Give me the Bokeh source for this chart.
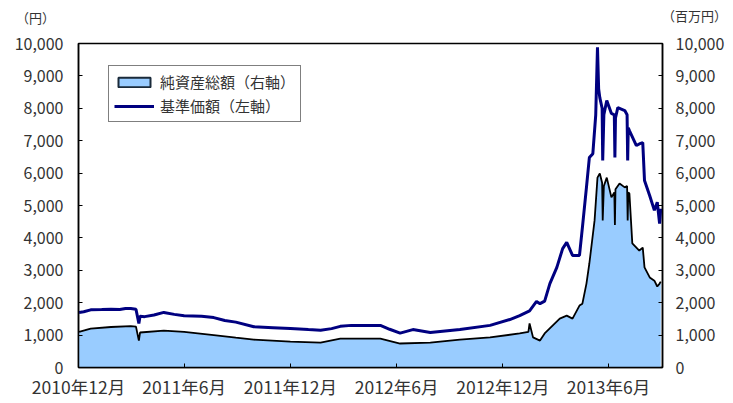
import pandas as pd
from bokeh.plotting import figure
from bokeh.models import (ColumnDataSource, LinearAxis, Range1d, FixedTicker,
                          NumeralTickFormatter, Legend, LegendItem, Label,
                          CustomJSTickFormatter)
from bokeh.embed import file_html
from bokeh.resources import INLINE

# 基準価額 (円, left axis)
price_dates = [
    "2010-12-02", "2010-12-10", "2010-12-22", "2011-01-10", "2011-01-26", "2011-02-10",
    "2011-02-20", "2011-03-01", "2011-03-10", "2011-03-15", "2011-03-17", "2011-03-25",
    "2011-04-10", "2011-04-27", "2011-05-15", "2011-06-01", "2011-07-01", "2011-07-22",
    "2011-08-10", "2011-08-29", "2011-09-29", "2011-11-01", "2011-12-01", "2012-01-01",
    "2012-01-22", "2012-02-10", "2012-02-25", "2012-03-15", "2012-05-04", "2012-05-20",
    "2012-06-07", "2012-06-29", "2012-07-29", "2012-09-18", "2012-11-09", "2012-12-13",
    "2012-12-30", "2013-01-16", "2013-01-28", "2013-02-03", "2013-02-11", "2013-02-20",
    "2013-03-04", "2013-03-14", "2013-03-21", "2013-03-31", "2013-04-12", "2013-04-17",
    "2013-04-24", "2013-04-29", "2013-05-05", "2013-05-10", "2013-05-13", "2013-05-15",
    "2013-05-17", "2013-05-21", "2013-05-22", "2013-05-24", "2013-05-29", "2013-06-06",
    "2013-06-11", "2013-06-12", "2013-06-13", "2013-06-17", "2013-06-29", "2013-07-03",
    "2013-07-04", "2013-07-05", "2013-07-07", "2013-07-19", "2013-07-24", "2013-07-30",
    "2013-08-02", "2013-08-11", "2013-08-19", "2013-08-24", "2013-08-28", "2013-08-30",
]
price_values = [
    1700, 1720, 1780, 1790, 1800, 1790,
    1820, 1820, 1800, 1360, 1580, 1570,
    1620, 1700, 1640, 1600, 1580, 1540,
    1450, 1400, 1260, 1230, 1200, 1170,
    1150, 1200, 1270, 1300, 1300, 1180,
    1060, 1170, 1080, 1170, 1300, 1480,
    1600, 1750, 2040, 1970, 2050, 2590,
    3090, 3670, 3860, 3460, 3460, 4320,
    5560, 6480, 6600, 7800, 9880, 8600,
    8330, 8000, 6390, 7800, 8240, 7840,
    7800, 6480, 7700, 8020, 7930, 7800,
    6390, 7400, 7310, 6850, 6900, 6940,
    5770, 5300, 4850, 5100, 4440, 4900,
]

# 純資産総額 (百万円, right axis)
asset_dates = [
    "2010-12-02", "2010-12-22", "2011-01-26", "2011-03-01", "2011-03-10", "2011-03-15",
    "2011-03-17", "2011-04-27", "2011-06-01", "2011-07-22", "2011-08-29", "2011-09-29",
    "2011-12-01", "2012-01-22", "2012-02-25", "2012-05-04", "2012-06-07", "2012-07-29",
    "2012-09-18", "2012-11-09", "2012-12-30", "2013-01-14", "2013-01-16", "2013-01-22",
    "2013-02-03", "2013-02-11", "2013-03-09", "2013-03-21", "2013-03-31", "2013-04-12",
    "2013-04-17", "2013-04-24", "2013-04-29", "2013-05-08", "2013-05-13", "2013-05-17",
    "2013-05-21", "2013-05-22", "2013-05-24", "2013-05-29", "2013-06-06", "2013-06-11",
    "2013-06-12", "2013-06-13", "2013-06-20", "2013-06-29", "2013-07-03", "2013-07-04",
    "2013-07-05", "2013-07-07", "2013-07-12", "2013-07-24", "2013-07-30", "2013-08-02",
    "2013-08-11", "2013-08-19", "2013-08-24", "2013-08-28", "2013-08-30",
]
asset_values = [
    1100, 1200, 1250, 1280, 1260, 830,
    1080, 1140, 1100, 1000, 920, 860,
    800, 770, 890, 890, 740, 770,
    860, 930, 1050, 1100, 1360, 930,
    830, 1050, 1510, 1600, 1510, 1910,
    1970, 2590, 3210, 4540, 5860, 5990,
    5700, 4540, 5600, 5860, 5250, 5400,
    4400, 5500, 5680, 5560, 5600, 4540,
    5400, 5370, 3830, 3610, 3700, 3090,
    2780, 2680, 2500, 2590, 2650,
]

tick_dates = ["2010-12-01", "2011-06-01", "2011-12-01", "2012-06-01", "2012-12-01", "2013-06-01"]
tick_labels = ["2010年12月", "2011年6月", "2011年12月", "2012年6月", "2012年12月", "2013年6月"]
y_ticks = list(range(0, 10001, 1000))

legend_asset = "純資産総額（右軸）"
legend_price = "基準価額（左軸）"
left_unit = "（円）"
right_unit = "（百万円）"

FONT = "Noto Sans CJK JP"
TXT = "#333333"
W, H = 733, 403
BL, BR, BT, BB = 78, 71, 43, 36

price_src = ColumnDataSource(dict(date=pd.to_datetime(price_dates), v=price_values))
asset_src = ColumnDataSource(dict(date=pd.to_datetime(asset_dates), v=asset_values,
                                  zero=[0] * len(asset_values)))
# one-row source only used to give the legend an outlined box swatch
proxy_src = ColumnDataSource(dict(l=[pd.Timestamp(asset_dates[0])], r=[pd.Timestamp(asset_dates[0])],
                                  t=[asset_values[0]], b=[0]))

p = figure(width=W, height=H, x_axis_type="datetime", output_backend="svg",
           toolbar_location=None,
           x_range=Range1d(pd.Timestamp("2010-12-01"), pd.Timestamp("2013-09-02")),
           y_range=Range1d(0, 10000),
           min_border_left=BL, min_border_right=BR, min_border_top=BT, min_border_bottom=BB)
p.extra_y_ranges = {"right": Range1d(0, 10000)}
p.xgrid.visible = False
p.ygrid.visible = False
p.outline_line_color = "black"
p.outline_line_width = 1.5
p.background_fill_color = "white"
p.border_fill_color = None

area = p.varea(x="date", y1="zero", y2="v", source=asset_src, fill_color="#99ccff",
               y_range_name="right")
p.line(x="date", y="v", source=asset_src, line_color="black", line_width=1.8,
       y_range_name="right")
price_line = p.line(x="date", y="v", source=price_src, line_color="#000080", line_width=3)

proxy = p.quad(left="l", right="r", top="t", bottom="b", source=proxy_src,
               fill_color="#99ccff", line_color="#1a2a3a", line_width=2,
               y_range_name="right")
proxy.visible = False

tick_ms = [pd.Timestamp(d).timestamp() * 1000 for d in tick_dates]
xax = p.xaxis[0]
xax.ticker = FixedTicker(ticks=tick_ms)
xax.formatter = CustomJSTickFormatter(args=dict(tvals=tick_ms, tlabels=tick_labels), code="""
    let best = 0, bd = Infinity;
    for (let i = 0; i < tvals.length; i++) {
        const d = Math.abs(tvals[i] - tick);
        if (d < bd) { bd = d; best = i; }
    }
    return tlabels[best];
""")

yax = p.yaxis[0]
yax.ticker = FixedTicker(ticks=y_ticks)
yax.formatter = NumeralTickFormatter(format="0,0")

rax = LinearAxis(y_range_name="right", ticker=FixedTicker(ticks=y_ticks),
                 formatter=NumeralTickFormatter(format="0,0"))
p.add_layout(rax, "right")

for ax in (xax, yax, rax):
    ax.axis_line_color = "black"
    ax.axis_line_width = 1.5
    ax.major_tick_in = 4
    ax.major_tick_out = 0
    ax.minor_tick_line_color = None
    ax.major_tick_line_color = "black"
    ax.major_label_text_font = FONT
    ax.major_label_text_font_size = "16px"
    ax.major_label_text_color = TXT
xax.major_label_text_font_size = "17.5px"
xax.major_label_standoff = 6
yax.major_label_standoff = 15
rax.major_label_standoff = 13

legend = Legend(items=[LegendItem(label=legend_asset, renderers=[proxy]),
                       LegendItem(label=legend_price, renderers=[price_line])],
                location=(30, 245), orientation="vertical",
                glyph_width=40, glyph_height=12, label_standoff=6,
                padding=5, spacing=3, margin=0,
                border_line_color="black", border_line_width=1.5,
                background_fill_color="white", background_fill_alpha=1,
                inactive_fill_alpha=0,
                label_text_font=FONT, label_text_font_size="15px",
                label_text_color=TXT)
p.add_layout(legend, "center")

# unit captions above the two value axes, placed in the top border panels
# (the second panel stacks above the first, so its offset is reduced)
p.add_layout(Label(x=35 - BL, y=BT - 17, x_units="screen", y_units="screen",
                   text=left_unit, text_align="center", text_baseline="middle",
                   text_font=FONT, text_font_size="13px", text_color=TXT), "above")
p.add_layout(Label(x=694 - BL, y=BT - 17 - 17, x_units="screen", y_units="screen",
                   text=right_unit, text_align="center", text_baseline="middle",
                   text_font=FONT, text_font_size="13px", text_color=TXT), "above")

open("out.html", "w").write(file_html(p, INLINE))
